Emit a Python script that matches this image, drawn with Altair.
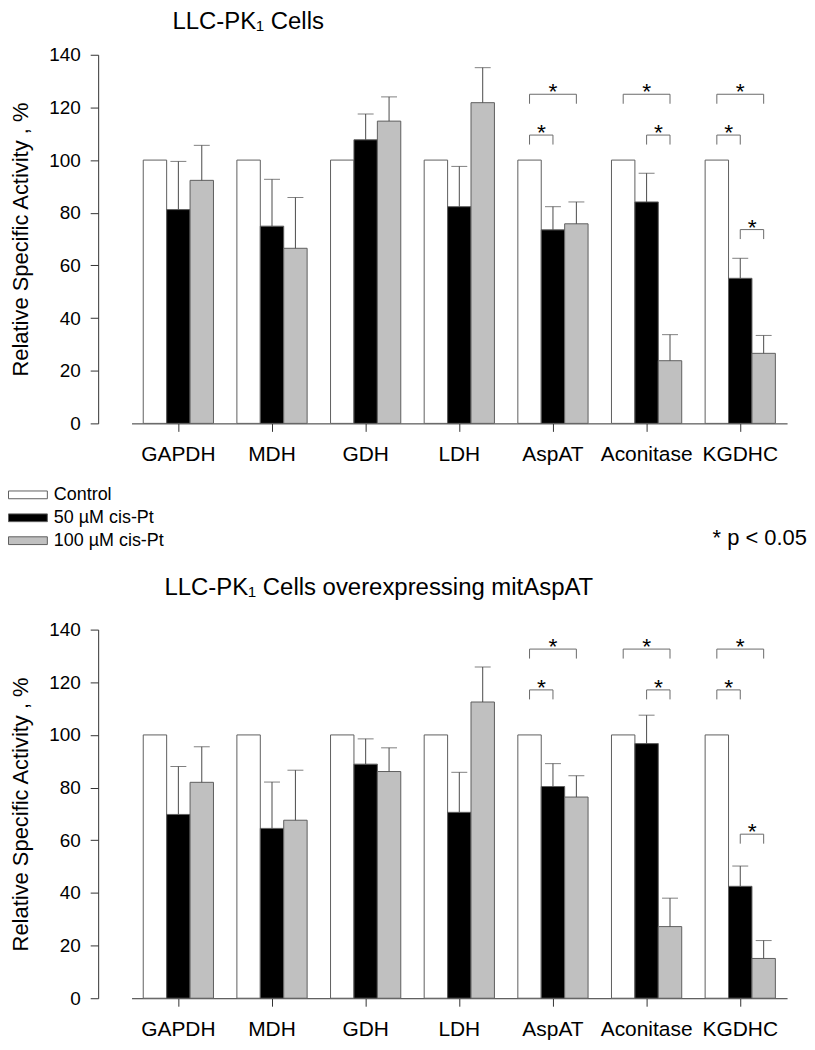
import altair as alt
import pandas as pd

FONT = "Liberation Sans"
AX = "#333333"

categories = ["GAPDH", "MDH", "GDH", "LDH", "AspAT", "Aconitase", "KGDHC"]
groups = ["Control", "50 µM cis-Pt", "100 µM cis-Pt"]
fills = ["#ffffff", "#000000", "#c0c0c0"]

# Top panel: LLC-PK1 cells
top_control = [100, 100, 100, 100, 100, 100, 100]
top_50 = [81.2, 74.9, 107.7, 82.3, 73.5, 84.1, 55.1]
top_50_err = [18.3, 17.8, 9.8, 15.3, 8.8, 10.9, 7.6]
top_100 = [92.3, 66.5, 114.8, 121.8, 75.8, 23.8, 26.6]
top_100_err = [13.3, 19.3, 9.2, 13.3, 8.3, 9.9, 6.8]
top_sig_cat = ["AspAT", "AspAT", "Aconitase", "Aconitase", "KGDHC", "KGDHC", "KGDHC"]
top_sig_from = ["Control", "Control", "Control", "50 µM cis-Pt", "Control", "Control", "50 µM cis-Pt"]
top_sig_to = ["100 µM cis-Pt", "50 µM cis-Pt", "100 µM cis-Pt", "100 µM cis-Pt", "100 µM cis-Pt", "50 µM cis-Pt", "100 µM cis-Pt"]
top_sig_level = [125.0, 109.5, 125.0, 109.5, 125.0, 109.5, 73.6]

# Bottom panel: LLC-PK1 cells overexpressing mitAspAT
bot_control = [100, 100, 100, 100, 100, 100, 100]
bot_50 = [69.8, 64.5, 88.9, 70.6, 80.4, 96.7, 42.5]
bot_50_err = [18.2, 17.6, 9.6, 15.2, 8.7, 10.8, 7.7]
bot_100 = [82.0, 67.6, 86.1, 112.5, 76.4, 27.2, 15.1]
bot_100_err = [13.5, 19.0, 9.0, 13.3, 8.1, 10.8, 6.8]
bot_sig_cat = top_sig_cat
bot_sig_from = top_sig_from
bot_sig_to = top_sig_to
bot_sig_level = [132.6, 117.1, 132.6, 117.1, 132.6, 117.1, 62.3]

LEG = 3.6  # bracket leg length (data units)


def bar_table(ctrl, v50, e50, v100, e100):
    rows = []
    for i, c in enumerate(categories):
        rows.append({"cat": c, "grp": groups[0], "val": ctrl[i], "hi": None})
        rows.append({"cat": c, "grp": groups[1], "val": v50[i], "hi": v50[i] + e50[i]})
        rows.append({"cat": c, "grp": groups[2], "val": v100[i], "hi": v100[i] + e100[i]})
    return pd.DataFrame(rows)


def bracket_tables(cats, frm, to, lvl):
    lines, stars = [], []
    for k in range(len(cats)):
        pts = [(frm[k], lvl[k] - LEG), (frm[k], lvl[k]), (to[k], lvl[k]), (to[k], lvl[k] - LEG)]
        for o, (g, v) in enumerate(pts):
            lines.append({"cat": cats[k], "grp": g, "val": v, "bid": k, "ord": o})
        wide = frm[k] == groups[0] and to[k] == groups[2]
        stars.append({"cat": cats[k], "grp": groups[1] if wide else frm[k], "val": lvl[k],
                      "kind": "wide" if wide else "adj"})
    return pd.DataFrame(lines), pd.DataFrame(stars)


YAXIS = alt.Axis(values=[0, 20, 40, 60, 80, 100, 120, 140], offset=33.5,
                 title="Relative Specific Activity , %", titleFontSize=22,
                 titleFontWeight="normal", titleColor="black", titlePadding=16,
                 labelFontSize=19, labelColor="black", labelPadding=10,
                 tickSize=8, domainColor=AX, tickColor=AX, grid=False)


def panel(ctrl, v50, e50, v100, e100, scat, sfrom, sto, slvl, title, title_dx, title_off, note):
    bars = bar_table(ctrl, v50, e50, v100, e100)
    lines, stars = bracket_tables(scat, sfrom, sto, slvl)

    x = alt.X("cat:N", sort=categories,
              scale=alt.Scale(domain=categories, paddingInner=0.25, paddingOuter=0.125),
              axis=alt.Axis(title=None, labelAngle=0, labelFontSize=21, labelColor="black",
                            tickSize=8, labelPadding=12, bandPosition=0.5, domainColor=AX,
                            tickColor=AX, labelOverlap=False, grid=False))
    xo = alt.XOffset("grp:N", sort=groups,
                     scale=alt.Scale(domain=groups, paddingInner=0, paddingOuter=0))
    y = alt.Y("val:Q", scale=alt.Scale(domain=[0, 140], nice=False), axis=YAXIS)

    base = alt.Chart(bars)
    b = base.mark_bar(stroke="#5f5f5f", strokeWidth=1).encode(
        x=x, xOffset=xo, y=y,
        fill=alt.Fill("grp:N", sort=groups, scale=alt.Scale(domain=groups, range=fills),
                      legend=alt.Legend(title=None, orient="none", legendX=-124, legendY=433,
                                        symbolType="M-1,-0.2L1,-0.2L1,0.2L-1,0.2Z",
                                        symbolSize=1521, symbolStrokeColor="#5f5f5f",
                                        symbolStrokeWidth=1, symbolOpacity=1,
                                        clipHeight=17.5,
                                        labelFontSize=18, labelFont=FONT, labelColor="black",
                                        labelOffset=6, rowPadding=4, padding=0)),
    )
    errs = base.transform_filter("datum.hi != null")
    rule = errs.mark_rule(color="#4a4a4a", strokeWidth=1).encode(
        x=x, xOffset=xo, y=y, y2="hi:Q")
    cap = errs.mark_tick(color="#4a4a4a", thickness=1, size=16, orient="horizontal").encode(
        x=x, xOffset=xo,
        y=alt.Y("hi:Q", scale=alt.Scale(domain=[0, 140], nice=False), axis=YAXIS))

    br = alt.Chart(lines).mark_line(color="#6a6a6a", strokeWidth=1).encode(
        x=x, xOffset=xo, y=y, detail="bid:N", order="ord:Q")
    st_w = alt.Chart(stars).transform_filter("datum.kind == 'wide'").mark_text(
        text="*", fontSize=23, font=FONT, baseline="alphabetic", dy=5, color="black").encode(
        x=x, xOffset=xo, y=y)
    st_a = alt.Chart(stars).transform_filter("datum.kind == 'adj'").mark_text(
        text="*", fontSize=23, font=FONT, baseline="alphabetic", dy=5, dx=12, color="black").encode(
        x=x, xOffset=xo, y=y)

    layers = [b, rule, cap, br, st_w, st_a]
    if note:
        layers.append(alt.Chart(alt.Data(values=[{}])).mark_text(
            text="* p < 0.05", fontSize=22, font=FONT, align="right", baseline="alphabetic",
            color="black").encode(x=alt.value(678), y=alt.value(492)))

    return alt.layer(*layers).properties(
        width=658, height=370,
        title=alt.Title(title, anchor="start", frame="group", dx=title_dx, offset=title_off,
                        fontSize=24, font=FONT, fontWeight="normal", color="black"))


top = panel(top_control, top_50, top_50_err, top_100, top_100_err,
            top_sig_cat, top_sig_from, top_sig_to, top_sig_level, "LLC-PK₁ Cells", 41, 11.5, True)
bottom = panel(bot_control, bot_50, bot_50_err, bot_100, bot_100_err,
               bot_sig_cat, bot_sig_from, bot_sig_to, bot_sig_level,
               "LLC-PK₁ Cells overexpressing mitAspAT", 33, 21, False)

chart = alt.vconcat(top, bottom, spacing=207, bounds="flush").properties(
    padding={"left": 0, "top": 0, "right": 0, "bottom": 0}
).configure(font=FONT).configure_view(stroke="transparent", strokeWidth=0).configure_axis(
    labelFont=FONT, titleFont=FONT)

chart.save("out.html", embed_options={"renderer": "svg", "actions": False})
